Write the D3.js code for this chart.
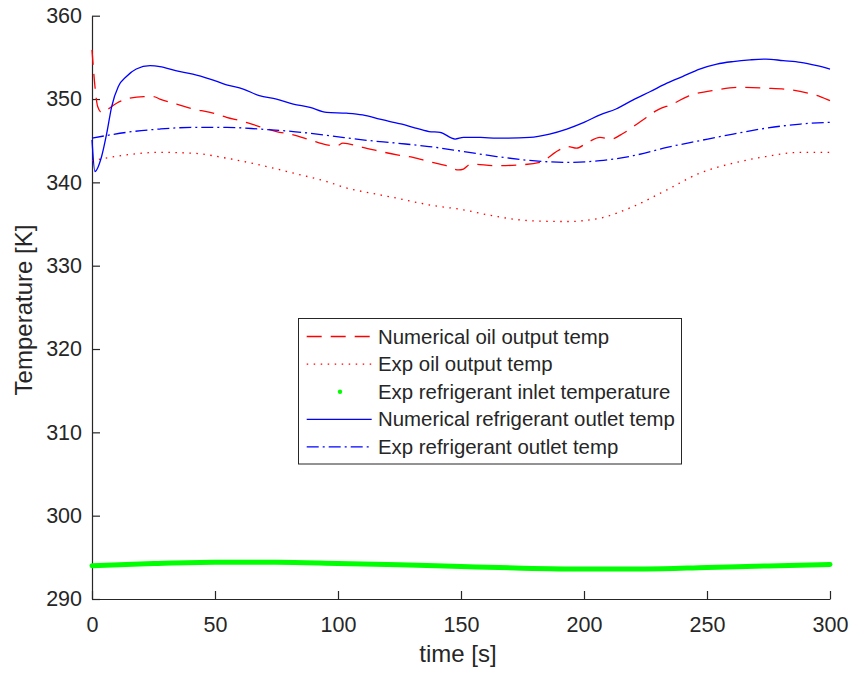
<!DOCTYPE html>
<html>
<head>
<meta charset="utf-8">
<script src="https://cdn.jsdelivr.net/npm/d3@7"></script>
<style>
  body { margin: 0; background: #fff; }
  text { font-family: "Liberation Sans", Arial, sans-serif; fill: #262626; }
</style>
</head>
<body>
<svg id="chart" width="852" height="677"></svg>
<script>
// numerical oil output temp (red dashed)
const numOilTime = [0, 0.5, 1.2, 2.3, 3.9, 6, 10, 14, 21, 25, 27.6, 34.4, 41, 48, 54.7, 61.5, 68, 75, 81.8, 88.6, 95.4, 99.5, 102, 110, 124, 130.5, 137, 144, 149, 151, 154, 164.5, 174, 182, 190, 193.5, 197, 201, 206.5, 211, 216, 223, 230, 236, 242, 254, 263, 274, 284, 291, 296, 300];
const numOilTemp = [355.9, 353.9, 351.5, 349.1, 348.4, 348.7, 349.5, 350.0, 350.3, 350.3, 350.0, 349.4, 348.8, 348.4, 347.8, 347.3, 346.7, 346.1, 345.7, 345.1, 344.5, 344.4, 344.7, 344.2, 343.3, 343.0, 342.5, 342.0, 341.5, 341.6, 342.2, 342.0, 342.1, 342.4, 343.9, 344.3, 344.1, 344.7, 345.4, 345.2, 345.9, 347.3, 348.7, 349.4, 350.3, 351.1, 351.4, 351.3, 351.1, 350.7, 350.3, 349.8];

// exp oil output temp (red dotted)
const expOilTime = [0, 14, 27.6, 41, 54.7, 68, 82, 95.4, 105, 110, 124, 137, 151, 164.5, 178, 193, 206.5, 220, 233.7, 247, 260.6, 274, 288, 300];
const expOilTemp = [342.6, 343.3, 343.6, 343.5, 342.9, 342.1, 341.1, 340.1, 339.2, 338.9, 338.1, 337.3, 336.7, 335.9, 335.4, 335.3, 335.7, 337.1, 339.1, 341.1, 342.3, 343.1, 343.6, 343.6];

// exp refrigerant inlet temperature (green dots)
const refInTime = [0, 25, 50, 75, 100, 125, 150, 175, 200, 225, 250, 275, 300];
const refInTemp = [294.0, 294.25, 294.4, 294.4, 294.27, 294.12, 293.9, 293.7, 293.6, 293.6, 293.78, 293.97, 294.15];

// numerical refrigerant outlet temp (blue solid)
const numRefTime = [0, 1.2, 3.9, 6, 8, 10.7, 14, 18, 23.6, 27.6, 34, 41, 48, 54.7, 61.5, 68, 75, 81.8, 88.6, 95.4, 103.5, 110, 117, 124, 126, 130.5, 137, 141.5, 147.6, 151, 158, 164.5, 178, 186, 193, 200, 206.5, 213, 220, 227, 233.7, 240, 247, 254, 260.6, 267.5, 274, 281, 288, 294.7, 300];
const numRefTemp = [345.1, 341.3, 343.1, 345.9, 349.1, 351.5, 352.7, 353.6, 354.0, 353.9, 353.4, 353.0, 352.4, 351.7, 351.2, 350.4, 350.0, 349.4, 349.0, 348.4, 348.3, 348.1, 347.6, 347.1, 347.0, 346.6, 346.1, 346.0, 345.2, 345.4, 345.4, 345.3, 345.4, 345.8, 346.4, 347.2, 348.1, 348.8, 349.9, 350.9, 351.9, 352.7, 353.6, 354.2, 354.5, 354.7, 354.8, 354.6, 354.4, 354.0, 353.6];

// exp refrigerant outlet temp (blue dash-dot)
const expRefTime = [0, 14, 27.6, 41, 54.7, 68, 81.8, 96.7, 110, 124, 137, 151, 164.5, 179, 193, 206.5, 220, 233.7, 247, 260.6, 274, 288, 300];
const expRefTemp = [345.3, 346.0, 346.4, 346.6, 346.6, 346.4, 346.1, 345.6, 345.1, 344.7, 344.3, 343.7, 343.1, 342.6, 342.4, 342.6, 343.2, 344.2, 345.0, 345.8, 346.5, 347.0, 347.2];

const xTicks = [0, 50, 100, 150, 200, 250, 300];
const yTicks = [290, 300, 310, 320, 330, 340, 350, 360];

const seriesNames = ["Numerical oil output temp", "Exp oil output temp", "Exp refrigerant inlet temperature", "Numerical refrigerant outlet temp", "Exp refrigerant outlet temp"];

const margin = { left: 92, top: 15.7, right: 22, bottom: 78 };
const W = 852, H = 677;
const innerW = W - margin.left - margin.right;
const innerH = H - margin.top - margin.bottom;

let svg = d3.select("#chart");
let g = svg.append("g").attr("transform", `translate(${margin.left},${margin.top})`);

let xScale = d3.scaleLinear().domain([0, 300]).range([0, innerW]);
let yScale = d3.scaleLinear().domain([290, 360]).range([innerH, 0]);

let axisColor = "#262626";

let xAxis = g.append("g")
  .attr("transform", `translate(0,${innerH})`)
  .call(d3.axisBottom(xScale).tickValues(xTicks).tickSizeInner(-8).tickSizeOuter(0).tickPadding(18));
let yAxis = g.append("g")
  .call(d3.axisLeft(yScale).tickValues(yTicks).tickSizeInner(-8).tickSizeOuter(0).tickPadding(10));

[xAxis, yAxis].forEach(ax => {
  ax.select(".domain").attr("stroke", axisColor).attr("stroke-width", 1.2);
  ax.selectAll(".tick line").attr("stroke", axisColor).attr("stroke-width", 1.2);
  ax.selectAll(".tick text")
    .attr("font-family", "Liberation Sans, Arial, sans-serif")
    .attr("font-size", "21.5px")
    .attr("fill", axisColor);
});

svg.append("text")
  .attr("x", 458).attr("y", 662)
  .attr("text-anchor", "middle")
  .attr("font-size", "24px")
  .text("time [s]");

svg.append("text")
  .attr("transform", "translate(31.5,310) rotate(-90)")
  .attr("text-anchor", "middle")
  .attr("font-size", "24px")
  .text("Temperature [K]");

let line = d3.line()
  .x(d => xScale(d[0]))
  .y(d => yScale(d[1]))
  .curve(d3.curveMonotoneX);

const zip = (a, b) => a.map((v, i) => [v, b[i]]);

const series = [
  { name: seriesNames[0], data: zip(numOilTime, numOilTemp), color: "#ff0000", dash: "15,9", width: 1.3 },
  { name: seriesNames[1], data: zip(expOilTime, expOilTemp), color: "#ff0000", dash: "1.5,5.5", width: 1.3 },
  { name: seriesNames[2], data: zip(refInTime, refInTemp), color: "#00ff00", dash: null, width: 5, dot: true },
  { name: seriesNames[3], data: zip(numRefTime, numRefTemp), color: "#0000ff", dash: null, width: 1.3 },
  { name: seriesNames[4], data: zip(expRefTime, expRefTemp), color: "#0000ff", dash: "12,4,2,4", width: 1.3 }
];

g.selectAll("path.series")
  .data(series)
  .enter()
  .append("path")
  .attr("class", "series")
  .attr("d", s => line(s.data))
  .attr("fill", "none")
  .attr("stroke", s => s.color)
  .attr("stroke-width", s => s.width)
  .attr("stroke-linecap", s => s.dot ? "round" : "butt")
  .attr("stroke-dasharray", s => s.dash);

// legend
let legend = svg.append("g");
legend.append("rect")
  .attr("x", 298.5).attr("y", 318.5)
  .attr("width", 383).attr("height", 145.5)
  .attr("fill", "#fff")
  .attr("stroke", axisColor)
  .attr("stroke-width", 1);

let rows = legend.selectAll("g.row")
  .data(series)
  .enter()
  .append("g")
  .attr("class", "row")
  .attr("transform", (s, i) => `translate(0,${336.5 + i * 27.6})`);

rows.filter(s => !s.dot).append("line")
  .attr("x1", 306.7).attr("x2", 371.7)
  .attr("y1", 0).attr("y2", 0)
  .attr("stroke", s => s.color)
  .attr("stroke-width", 1.3)
  .attr("stroke-dasharray", s => s.dash);

rows.filter(s => s.dot).append("circle")
  .attr("cx", 340).attr("cy", 0).attr("r", 2.2)
  .attr("fill", s => s.color);

rows.append("text")
  .attr("x", 378).attr("y", 7)
  .attr("font-size", "20.4px")
  .text(s => s.name);
</script>
</body>
</html>
